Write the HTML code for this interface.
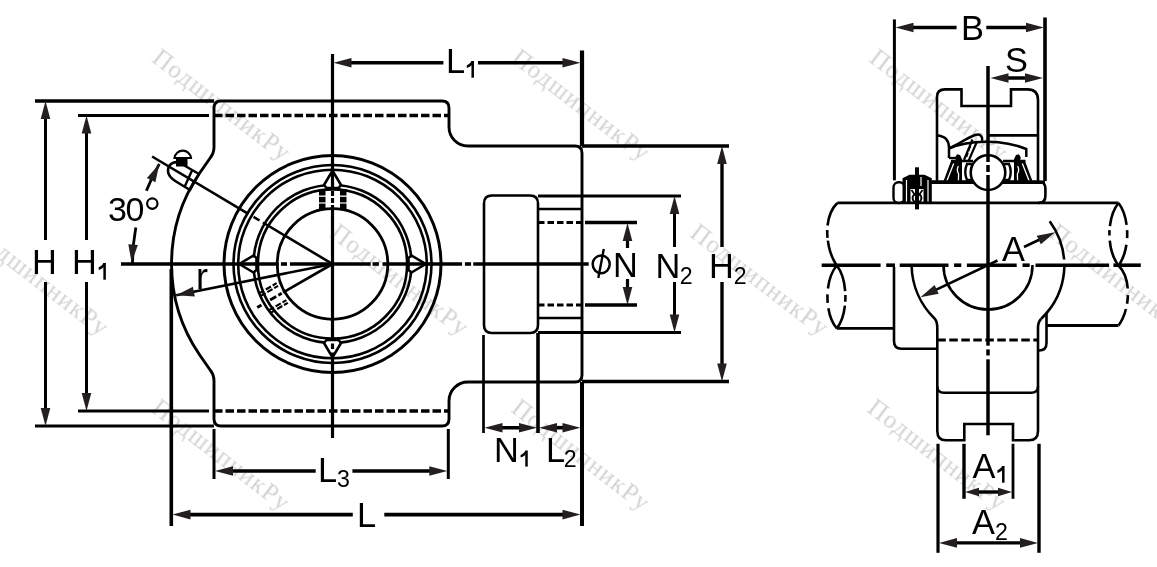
<!DOCTYPE html>
<html><head><meta charset="utf-8"><style>html,body{margin:0;padding:0;background:#fff;}svg{display:block;}</style></head>
<body><svg width="1157" height="567" viewBox="0 0 1157 567">
<rect width="1157" height="567" fill="#fff"/>
<g opacity="0.999">
<text x="151" y="60.5" transform="rotate(37.5 151 60.5)" font-family="Liberation Serif" font-size="25" letter-spacing="1.2" fill="#d4d4d4">ПодшипникРу</text>
<text x="510" y="61" transform="rotate(37.5 510 61)" font-family="Liberation Serif" font-size="25" letter-spacing="1.2" fill="#d4d4d4">ПодшипникРу</text>
<text x="868" y="61" transform="rotate(37.5 868 61)" font-family="Liberation Serif" font-size="25" letter-spacing="1.2" fill="#d4d4d4">ПодшипникРу</text>
<text x="-31" y="235.5" transform="rotate(37.5 -31 235.5)" font-family="Liberation Serif" font-size="25" letter-spacing="1.2" fill="#d4d4d4">ПодшипникРу</text>
<text x="329" y="235.5" transform="rotate(37.5 329 235.5)" font-family="Liberation Serif" font-size="25" letter-spacing="1.2" fill="#d4d4d4">ПодшипникРу</text>
<text x="689" y="235.5" transform="rotate(37.5 689 235.5)" font-family="Liberation Serif" font-size="25" letter-spacing="1.2" fill="#d4d4d4">ПодшипникРу</text>
<text x="1048" y="235.5" transform="rotate(37.5 1048 235.5)" font-family="Liberation Serif" font-size="25" letter-spacing="1.2" fill="#d4d4d4">ПодшипникРу</text>
<text x="150" y="411" transform="rotate(37.5 150 411)" font-family="Liberation Serif" font-size="25" letter-spacing="1.2" fill="#d4d4d4">ПодшипникРу</text>
<text x="510" y="411" transform="rotate(37.5 510 411)" font-family="Liberation Serif" font-size="25" letter-spacing="1.2" fill="#d4d4d4">ПодшипникРу</text>
<text x="866" y="411" transform="rotate(37.5 866 411)" font-family="Liberation Serif" font-size="25" letter-spacing="1.2" fill="#d4d4d4">ПодшипникРу</text>
</g>
<path d="M221,101 L442,101 Q449,101 449,108 L449,127 A19,19 0 0 0 468,146 L575,146 Q582,146 582,153 L582,375 Q582,382 575,382 L468,382 A19,19 0 0 0 449,401 L449,419 Q449,426 442,426 L221,426 Q214,426 214,419 L214,381 Q214,375 210.5,370.5 L199.7,355 A161,161 0 0 1 199.7,173 L210.5,157.5 Q214,153 214,147 L214,108 Q214,101 221,101 Z" stroke="#000" stroke-width="2.9" fill="none" />
<line x1="214" y1="115.5" x2="449" y2="115.5" stroke="#000" stroke-width="3.3" stroke-linecap="butt" stroke-dasharray="8.5,3"/>
<line x1="214" y1="411" x2="449" y2="411" stroke="#000" stroke-width="3.3" stroke-linecap="butt" stroke-dasharray="8.5,3"/>
<line x1="35" y1="101" x2="214" y2="101" stroke="#000" stroke-width="3.6" stroke-linecap="butt"/>
<line x1="78" y1="115.5" x2="209" y2="115.5" stroke="#000" stroke-width="3.2" stroke-linecap="butt"/>
<line x1="35" y1="426" x2="214" y2="426" stroke="#000" stroke-width="2.8" stroke-linecap="butt"/>
<line x1="78" y1="411" x2="209" y2="411" stroke="#000" stroke-width="2.8" stroke-linecap="butt"/>
<line x1="45.5" y1="110" x2="45.5" y2="240" stroke="#000" stroke-width="3" stroke-linecap="butt"/>
<line x1="45.5" y1="282" x2="45.5" y2="417" stroke="#000" stroke-width="3" stroke-linecap="butt"/>
<polygon points="45.5,101.0 50.3,119.0 40.7,119.0" fill="#231f20"/>
<polygon points="45.5,426.0 40.7,408.0 50.3,408.0" fill="#231f20"/>
<line x1="86.5" y1="124" x2="86.5" y2="240" stroke="#000" stroke-width="3" stroke-linecap="butt"/>
<line x1="86.5" y1="282" x2="86.5" y2="402" stroke="#000" stroke-width="3" stroke-linecap="butt"/>
<polygon points="86.5,115.5 91.3,133.5 81.7,133.5" fill="#231f20"/>
<polygon points="86.5,411.0 81.7,393.0 91.3,393.0" fill="#231f20"/>
<circle cx="332.5" cy="264.0" r="108.5" stroke="#000" stroke-width="3" fill="none"/>
<circle cx="332.5" cy="264.0" r="99" stroke="#000" stroke-width="2.6" fill="none"/>
<circle cx="332.5" cy="264.0" r="94.3" stroke="#000" stroke-width="2.6" fill="none"/>
<circle cx="332.5" cy="264.0" r="79" stroke="#000" stroke-width="2.6" fill="none"/>
<circle cx="332.5" cy="264.0" r="74.6" stroke="#000" stroke-width="2.6" fill="none"/>
<circle cx="332.5" cy="264.0" r="55.3" stroke="#000" stroke-width="2.8" fill="none"/>
<polygon points="425.8,264.0 411.5,272.5 408.5,270.0 408.5,258.0 411.5,255.5" fill="#fff" stroke="#000" stroke-width="2.6" stroke-linejoin="round"/>
<polygon points="332.5,357.3 324.0,343.0 326.5,340.0 338.5,340.0 341.0,343.0" fill="#fff" stroke="#000" stroke-width="2.6" stroke-linejoin="round"/>
<polygon points="239.2,264.0 253.5,255.5 256.5,258.0 256.5,270.0 253.5,272.5" fill="#fff" stroke="#000" stroke-width="2.6" stroke-linejoin="round"/>
<polygon points="332.5,170.7 341.0,185.0 338.5,188.0 326.5,188.0 324.0,185.0" fill="#fff" stroke="#000" stroke-width="2.6" stroke-linejoin="round"/>
<rect x="319" y="189" width="6.5" height="6.5" fill="#000"/>
<rect x="319" y="196.8" width="6.5" height="5.6" fill="#000"/>
<rect x="319" y="203.6" width="6.5" height="5.4" fill="#000"/>
<rect x="340" y="189" width="6.5" height="6.5" fill="#000"/>
<rect x="340" y="196.8" width="6.5" height="5.6" fill="#000"/>
<rect x="340" y="203.6" width="6.5" height="5.4" fill="#000"/>
<line x1="332.5" y1="264.0" x2="283.1" y2="292.5" stroke="#000" stroke-width="2.6" stroke-linecap="butt"/>
<line x1="281.8" y1="293.2" x2="278.4" y2="295.2" stroke="#000" stroke-width="2.8" stroke-linecap="butt"/>
<line x1="276.2" y1="296.5" x2="270.1" y2="300.0" stroke="#000" stroke-width="2.8" stroke-linecap="butt"/>
<line x1="261.5" y1="305.0" x2="257.2" y2="307.5" stroke="#000" stroke-width="2.8" stroke-linecap="butt"/>
<line x1="286.4" y1="300.2" x2="282.5" y2="302.4" stroke="#000" stroke-width="2.1" stroke-linecap="butt"/>
<line x1="280.8" y1="303.4" x2="275.6" y2="306.4" stroke="#000" stroke-width="2.1" stroke-linecap="butt"/>
<line x1="273.9" y1="307.4" x2="269.1" y2="310.2" stroke="#000" stroke-width="2.1" stroke-linecap="butt"/>
<line x1="287.9" y1="302.8" x2="284.0" y2="305.0" stroke="#000" stroke-width="2.1" stroke-linecap="butt"/>
<line x1="282.3" y1="306.0" x2="277.1" y2="309.0" stroke="#000" stroke-width="2.1" stroke-linecap="butt"/>
<line x1="275.4" y1="310.0" x2="270.6" y2="312.8" stroke="#000" stroke-width="2.1" stroke-linecap="butt"/>
<line x1="278.1" y1="285.8" x2="274.2" y2="288.1" stroke="#000" stroke-width="2.1" stroke-linecap="butt"/>
<line x1="272.5" y1="289.1" x2="267.3" y2="292.1" stroke="#000" stroke-width="2.1" stroke-linecap="butt"/>
<line x1="265.6" y1="293.1" x2="260.8" y2="295.8" stroke="#000" stroke-width="2.1" stroke-linecap="butt"/>
<line x1="276.6" y1="283.2" x2="272.7" y2="285.5" stroke="#000" stroke-width="2.1" stroke-linecap="butt"/>
<line x1="271.0" y1="286.5" x2="265.8" y2="289.5" stroke="#000" stroke-width="2.1" stroke-linecap="butt"/>
<line x1="264.1" y1="290.5" x2="259.3" y2="293.2" stroke="#000" stroke-width="2.1" stroke-linecap="butt"/>
<line x1="152.1" y1="156.5" x2="247.5" y2="213.3" stroke="#000" stroke-width="2.6" stroke-linecap="butt"/>
<line x1="253.5" y1="216.9" x2="259.5" y2="220.5" stroke="#000" stroke-width="2.6" stroke-linecap="butt"/>
<line x1="262.9" y1="222.5" x2="332.5" y2="264.0" stroke="#000" stroke-width="2.6" stroke-linecap="butt"/>
<line x1="176.2" y1="295.2" x2="332.5" y2="264.0" stroke="#000" stroke-width="2.6" stroke-linecap="butt"/>
<polygon points="176.2,295.2 192.9,286.8 194.8,296.6" fill="#231f20"/>
<path d="M182,164 C176,160 168,163 168,171 C168,176 172,179 176,181.5 L190,190" stroke="#000" stroke-width="2.6" fill="none" />
<line x1="180" y1="163" x2="199" y2="174" stroke="#000" stroke-width="2.4" stroke-linecap="butt"/>
<line x1="192" y1="170.5" x2="184.5" y2="187" stroke="#000" stroke-width="2.4" stroke-linecap="butt"/>
<line x1="199" y1="174" x2="189.5" y2="191" stroke="#000" stroke-width="2.4" stroke-linecap="butt"/>
<path d="M174.5,158 A8.3,8.3 0 0 1 191,158 Z" stroke="#000" stroke-width="2.2" fill="#fff" />
<rect x="176" y="158.5" width="11.5" height="8" fill="#000"/>
<line x1="121" y1="264" x2="278.8" y2="264" stroke="#000" stroke-width="3.6" stroke-linecap="butt"/>
<line x1="280.9" y1="264" x2="287" y2="264" stroke="#000" stroke-width="3.6" stroke-linecap="butt"/>
<line x1="289.9" y1="264" x2="370.7" y2="264" stroke="#000" stroke-width="3.6" stroke-linecap="butt"/>
<line x1="372.5" y1="264" x2="378.9" y2="264" stroke="#000" stroke-width="3.6" stroke-linecap="butt"/>
<line x1="382.5" y1="264" x2="462.1" y2="264" stroke="#000" stroke-width="3.6" stroke-linecap="butt"/>
<line x1="464.9" y1="264" x2="471.1" y2="264" stroke="#000" stroke-width="3.6" stroke-linecap="butt"/>
<line x1="473.2" y1="264" x2="588.7" y2="264" stroke="#000" stroke-width="3.6" stroke-linecap="butt"/>
<line x1="332.5" y1="54" x2="332.5" y2="189" stroke="#000" stroke-width="3.2" stroke-linecap="butt"/>
<line x1="332.5" y1="191" x2="332.5" y2="196" stroke="#000" stroke-width="3.2" stroke-linecap="butt"/>
<line x1="332.5" y1="198" x2="332.5" y2="203" stroke="#000" stroke-width="3.2" stroke-linecap="butt"/>
<line x1="332.5" y1="205" x2="332.5" y2="340.5" stroke="#000" stroke-width="3.2" stroke-linecap="butt"/>
<line x1="332.5" y1="343.5" x2="332.5" y2="349" stroke="#000" stroke-width="3.2" stroke-linecap="butt"/>
<line x1="332.5" y1="352.5" x2="332.5" y2="438" stroke="#000" stroke-width="3.2" stroke-linecap="butt"/>
<path d="M132.5,264.0 A200,200 0 0 1 135.8,227.6" stroke="#000" stroke-width="2.8" fill="none" />
<path d="M146.4,190.7 A200,200 0 0 1 159.3,164.0" stroke="#000" stroke-width="2.8" fill="none" />
<polygon points="131.6,262.5 128.3,244.2 137.9,245.0" fill="#231f20"/>
<polygon points="159.3,164.0 155.4,182.2 146.9,177.9" fill="#231f20"/>
<path d="M492,195.5 L530,195.5 Q538,195.5 538,203.5 L538,325 Q538,333 530,333 L492,333 Q484,333 484,325 L484,203.5 Q484,195.5 492,195.5 Z" stroke="#000" stroke-width="2.6" fill="none" />
<line x1="538" y1="196" x2="681" y2="196" stroke="#000" stroke-width="3.2" stroke-linecap="butt"/>
<line x1="538" y1="209" x2="582" y2="209" stroke="#000" stroke-width="2.6" stroke-linecap="butt"/>
<line x1="538" y1="222.5" x2="582" y2="222.5" stroke="#000" stroke-width="3.2" stroke-linecap="butt" stroke-dasharray="6.5,3"/>
<line x1="585" y1="222.5" x2="637" y2="222.5" stroke="#000" stroke-width="3.4" stroke-linecap="butt"/>
<line x1="538" y1="305" x2="582" y2="305" stroke="#000" stroke-width="3.2" stroke-linecap="butt" stroke-dasharray="6.5,3"/>
<line x1="585" y1="305" x2="637" y2="305" stroke="#000" stroke-width="3.4" stroke-linecap="butt"/>
<line x1="538" y1="318" x2="582" y2="318" stroke="#000" stroke-width="2.6" stroke-linecap="butt"/>
<line x1="538" y1="332.5" x2="681" y2="332.5" stroke="#000" stroke-width="3.2" stroke-linecap="butt"/>
<line x1="483.5" y1="335" x2="483.5" y2="433" stroke="#000" stroke-width="2.7" stroke-linecap="butt"/>
<line x1="538" y1="333" x2="538" y2="433" stroke="#000" stroke-width="3.6" stroke-linecap="butt"/>
<line x1="582" y1="146" x2="582" y2="50.5" stroke="#000" stroke-width="4.2" stroke-linecap="butt"/>
<line x1="582" y1="146" x2="729" y2="146" stroke="#000" stroke-width="3.6" stroke-linecap="butt"/>
<line x1="582" y1="381.5" x2="729" y2="381.5" stroke="#000" stroke-width="3.5" stroke-linecap="butt"/>
<line x1="582" y1="382" x2="582" y2="526" stroke="#000" stroke-width="4" stroke-linecap="butt"/>
<line x1="627.5" y1="241" x2="627.5" y2="248" stroke="#000" stroke-width="3.2" stroke-linecap="butt"/>
<line x1="627.5" y1="279" x2="627.5" y2="287" stroke="#000" stroke-width="3.2" stroke-linecap="butt"/>
<polygon points="627.5,223.0 632.3,241.0 622.7,241.0" fill="#231f20"/>
<polygon points="627.5,305.0 622.7,287.0 632.3,287.0" fill="#231f20"/>
<line x1="674.5" y1="205" x2="674.5" y2="247" stroke="#000" stroke-width="3" stroke-linecap="butt"/>
<line x1="674.5" y1="282" x2="674.5" y2="323.5" stroke="#000" stroke-width="3" stroke-linecap="butt"/>
<polygon points="674.5,196.0 679.3,214.0 669.7,214.0" fill="#231f20"/>
<polygon points="674.5,332.5 669.7,314.5 679.3,314.5" fill="#231f20"/>
<line x1="722" y1="155" x2="722" y2="247" stroke="#000" stroke-width="3.4" stroke-linecap="butt"/>
<line x1="722" y1="282" x2="722" y2="372.5" stroke="#000" stroke-width="3.4" stroke-linecap="butt"/>
<polygon points="722.0,146.0 726.8,164.0 717.2,164.0" fill="#231f20"/>
<polygon points="722.0,381.5 717.2,363.5 726.8,363.5" fill="#231f20"/>
<line x1="342" y1="62.7" x2="443.4" y2="62.7" stroke="#000" stroke-width="3.6" stroke-linecap="butt"/>
<line x1="478" y1="62.7" x2="571" y2="62.7" stroke="#000" stroke-width="3.6" stroke-linecap="butt"/>
<polygon points="333.5,62.7 351.5,57.9 351.5,67.5" fill="#231f20"/>
<polygon points="580.5,62.7 562.5,67.5 562.5,57.9" fill="#231f20"/>
<line x1="214" y1="429" x2="214" y2="479" stroke="#000" stroke-width="3" stroke-linecap="butt"/>
<line x1="448.3" y1="429" x2="448.3" y2="479" stroke="#000" stroke-width="3" stroke-linecap="butt"/>
<line x1="224" y1="471" x2="315.7" y2="471" stroke="#000" stroke-width="3.6" stroke-linecap="butt"/>
<line x1="352.4" y1="471" x2="438" y2="471" stroke="#000" stroke-width="3.6" stroke-linecap="butt"/>
<polygon points="215.0,471.0 233.0,466.2 233.0,475.8" fill="#231f20"/>
<polygon points="447.3,471.0 429.3,475.8 429.3,466.2" fill="#231f20"/>
<line x1="171.3" y1="269" x2="171.3" y2="526" stroke="#000" stroke-width="3.6" stroke-linecap="butt"/>
<line x1="181" y1="514.6" x2="352.8" y2="514.6" stroke="#000" stroke-width="3.6" stroke-linecap="butt"/>
<line x1="384.3" y1="514.6" x2="571" y2="514.6" stroke="#000" stroke-width="3.6" stroke-linecap="butt"/>
<polygon points="172.5,514.6 190.5,509.8 190.5,519.4" fill="#231f20"/>
<polygon points="580.5,514.6 562.5,519.4 562.5,509.8" fill="#231f20"/>
<line x1="493" y1="427.7" x2="528" y2="427.7" stroke="#000" stroke-width="3.6" stroke-linecap="butt"/>
<line x1="548" y1="427.7" x2="571" y2="427.7" stroke="#000" stroke-width="3.6" stroke-linecap="butt"/>
<polygon points="484.5,427.7 502.5,422.9 502.5,432.5" fill="#231f20"/>
<polygon points="537.0,427.7 519.0,432.5 519.0,422.9" fill="#231f20"/>
<polygon points="539.0,427.7 557.0,422.9 557.0,432.5" fill="#231f20"/>
<polygon points="580.5,427.7 562.5,432.5 562.5,422.9" fill="#231f20"/>
<ellipse cx="601.2" cy="264.3" rx="8.5" ry="8.9" stroke="#000" stroke-width="2.5" fill="none"/>
<line x1="603.8" y1="249" x2="598.3" y2="278" stroke="#000" stroke-width="2.4" stroke-linecap="butt"/>
<line x1="894.4" y1="19.4" x2="894.4" y2="180.3" stroke="#000" stroke-width="3" stroke-linecap="butt"/>
<line x1="1045" y1="17.5" x2="1045" y2="181" stroke="#000" stroke-width="3.6" stroke-linecap="butt"/>
<line x1="904" y1="27.5" x2="956.6" y2="27.5" stroke="#000" stroke-width="3.4" stroke-linecap="butt"/>
<line x1="986.3" y1="27.5" x2="1035" y2="27.5" stroke="#000" stroke-width="3.4" stroke-linecap="butt"/>
<polygon points="895.5,27.5 913.5,22.7 913.5,32.3" fill="#231f20"/>
<polygon points="1044.0,27.5 1026.0,32.3 1026.0,22.7" fill="#231f20"/>
<line x1="999" y1="78" x2="1034" y2="78" stroke="#000" stroke-width="3.6" stroke-linecap="butt"/>
<polygon points="990.5,78.0 1008.5,73.2 1008.5,82.8" fill="#231f20"/>
<polygon points="1043.0,78.0 1025.0,82.8 1025.0,73.2" fill="#231f20"/>
<path d="M937,181 L937,97 Q937,89.4 945,89.4 L961.5,89.4 L961.5,106 L1011,106 L1011,89.4 L1027.5,89.4 Q1038,89.4 1038,100 L1038,182" stroke="#000" stroke-width="2.6" fill="none" />
<line x1="988.7" y1="135.4" x2="1038" y2="135.4" stroke="#000" stroke-width="2.8" stroke-linecap="butt"/>
<path d="M937,135.5 C946,136 949,141 949,148 L949,158" stroke="#000" stroke-width="2.5" fill="none" />
<path d="M949,148.5 C962,143 975,141.5 988,141.8 C1002,142 1015,144.5 1026.3,149 L1026.3,157" stroke="#000" stroke-width="2.5" fill="none" />
<line x1="949" y1="158" x2="961" y2="158" stroke="#000" stroke-width="2.3" stroke-linecap="butt"/>
<line x1="1003" y1="161" x2="1025.5" y2="161" stroke="#000" stroke-width="2.5" stroke-linecap="butt"/>
<line x1="951" y1="161" x2="973" y2="161" stroke="#000" stroke-width="2.5" stroke-linecap="butt"/>
<path d="M949,148 C958,145.5 964,139 975,135 C980,133.5 983,136 982,141" stroke="#000" stroke-width="2.4" fill="none" />
<line x1="972.5" y1="139.5" x2="964" y2="160" stroke="#000" stroke-width="2.2" stroke-linecap="butt"/>
<line x1="977" y1="141.5" x2="968.5" y2="161" stroke="#000" stroke-width="2.2" stroke-linecap="butt"/>
<line x1="970.5" y1="146" x2="968.5" y2="151" stroke="#000" stroke-width="1.6" stroke-linecap="butt"/>
<line x1="968" y1="153" x2="966.5" y2="157" stroke="#000" stroke-width="1.6" stroke-linecap="butt"/>
<polygon points="1014.0,182.5 1014.0,159.0 1016.0,155.0 1019.0,154.3 1020.8,157.5 1020.0,161.0 1025.0,161.0 1033.0,182.5" fill="#000"/>
<line x1="1022.3" y1="163.5" x2="1029.6" y2="182" stroke="#fff" stroke-width="1.3" stroke-linecap="butt"/>
<path d="M1017.6,166 Q1019.8,170 1017.4,174 L1017.6,181" stroke="#fff" stroke-width="1.3" fill="none" />
<polygon points="962.0,182.5 962.0,159.0 960.0,155.0 957.0,154.3 955.2,157.5 956.0,161.0 951.0,161.0 943.0,182.5" fill="#000"/>
<line x1="953.7" y1="163.5" x2="946.4000000000001" y2="182" stroke="#fff" stroke-width="1.3" stroke-linecap="butt"/>
<path d="M958.4,166 Q956.2,170 958.6,174 L958.4,181" stroke="#fff" stroke-width="1.3" fill="none" />
<path d="M1004,164 L1009,164 Q1012.5,172 1009,180 L1004,180" stroke="#000" stroke-width="2.4" fill="#fff" />
<path d="M972,164 L967,164 Q963.5,172 967,180 L972,180" stroke="#000" stroke-width="2.4" fill="#fff" />
<path d="M931,181.8 L1038.5,181.8 Q1045.4,181.8 1045.4,188.5 L1045.4,196 Q1045.4,202.9 1038.5,202.9" stroke="#000" stroke-width="2.6" fill="none" />
<rect x="893.5" y="182.3" width="11" height="20.8" rx="5" ry="5" fill="#fff" stroke="#000" stroke-width="2.4"/>
<line x1="930" y1="182.2" x2="974" y2="182.2" stroke="#000" stroke-width="3.4" stroke-linecap="butt"/>
<line x1="1002" y1="182.2" x2="1045" y2="182.2" stroke="#000" stroke-width="3.4" stroke-linecap="butt"/>
<circle cx="988" cy="172.6" r="17.3" stroke="#000" stroke-width="2.6" fill="#fff"/>
<polygon points="902.5,203.5 902.5,178.3 909.5,174.8 924.5,174.8 931.8,178.3 931.8,203.5" fill="#000"/>
<rect x="910.5" y="189" width="13" height="13" fill="#fff"/>
<circle cx="917" cy="198" r="4.4" stroke="#000" stroke-width="2" fill="none"/>
<line x1="906.5" y1="180" x2="906.5" y2="202" stroke="#fff" stroke-width="1.2" stroke-linecap="butt"/>
<line x1="928" y1="180" x2="928" y2="202" stroke="#fff" stroke-width="1.2" stroke-linecap="butt"/>
<line x1="921" y1="177" x2="921" y2="186" stroke="#fff" stroke-width="1.2" stroke-linecap="butt"/>
<line x1="911.5" y1="190" x2="917" y2="198" stroke="#000" stroke-width="1.8" stroke-linecap="butt"/>
<line x1="922.5" y1="190" x2="917" y2="198" stroke="#000" stroke-width="1.8" stroke-linecap="butt"/>
<line x1="917" y1="167.3" x2="917" y2="209.4" stroke="#000" stroke-width="4" stroke-linecap="butt"/>
<line x1="837.3" y1="202.9" x2="1118.5" y2="202.9" stroke="#000" stroke-width="2.8" stroke-linecap="butt"/>
<line x1="836.8" y1="328.4" x2="894" y2="328.4" stroke="#000" stroke-width="2.8" stroke-linecap="butt"/>
<line x1="1046.5" y1="325.5" x2="1118.5" y2="325.5" stroke="#000" stroke-width="2.8" stroke-linecap="butt"/>
<path d="M837.3,203 C822,218 826,250 836.8,265.5" stroke="#000" stroke-width="2.6" fill="none" pathLength="100" stroke-dasharray="37.4,6.9,11.8,4,100"/>
<path d="M836.8,265.5 C824.3,280 824.3,314 836.8,328.5" stroke="#000" stroke-width="2.6" fill="none" pathLength="100" stroke-dasharray="37.3,8.8,12.8,8,100"/>
<path d="M836.8,265.5 C848.3,280 848.3,314 836.8,328.5" stroke="#000" stroke-width="2.6" fill="none" pathLength="100" stroke-dasharray="41.1,6,10,6,100"/>
<path d="M1118.5,203 C1106.4,218 1106.4,250 1118.5,265.5" stroke="#000" stroke-width="2.6" fill="none" pathLength="100" stroke-dasharray="37.7,6.1,8,8,100"/>
<path d="M1118.5,203 C1130.1,218 1130.1,250 1118.5,265.5" stroke="#000" stroke-width="2.6" fill="none" pathLength="100" stroke-dasharray="35.7,8.1,12,10.2,100"/>
<path d="M1118.5,265.5 C1133,280 1129,312 1118.5,325.5" stroke="#000" stroke-width="2.6" fill="none" pathLength="100" stroke-dasharray="39.4,10.3,13.5,8.4,100"/>
<path d="M894,267 L894,341 Q894,348.8 901.5,348.8 L937,348.8" stroke="#000" stroke-width="2.6" fill="none" />
<path d="M911.6,265 A76.4,76.4 0 0 0 935,319 Q937.3,322 937.3,328 L937.3,431 Q937.3,440.3 946,440.3 L964.3,440.3 L964.3,424 L1013,424 L1013,440.3 L1029,440.3 Q1038,440.3 1038,431 L1038,328 Q1038,322 1041,319" stroke="#000" stroke-width="2.6" fill="none" />
<path d="M1041,319 A76.4,76.4 0 0 0 1064.4,266" stroke="#000" stroke-width="2.6" fill="none" />
<path d="M1064.2,259.5 A76.4,76.4 0 0 0 1049.7,221.3" stroke="#000" stroke-width="2.6" fill="none" />
<path d="M1046.5,313 L1046.5,343 Q1046.5,350.5 1039,350.5" stroke="#000" stroke-width="2.6" fill="none" />
<line x1="937.3" y1="340" x2="1038" y2="340" stroke="#000" stroke-width="3.1" stroke-linecap="butt" stroke-dasharray="8.5,3.5"/>
<path d="M937.3,386.5 Q937.3,392.8 944,392.8 L1031,392.8 Q1038,392.8 1038,386.5" stroke="#000" stroke-width="2.6" fill="none" />
<path d="M943.5,265 A44.5,44.5 0 0 0 1032.5,265" stroke="#000" stroke-width="2.6" fill="none" />
<line x1="821.7" y1="265.2" x2="880.6" y2="265.2" stroke="#000" stroke-width="3.6" stroke-linecap="butt"/>
<line x1="886.2" y1="265.2" x2="895" y2="265.2" stroke="#000" stroke-width="3.6" stroke-linecap="butt"/>
<line x1="899.7" y1="265.2" x2="948.5" y2="265.2" stroke="#000" stroke-width="3.6" stroke-linecap="butt"/>
<line x1="954.1" y1="265.2" x2="961.3" y2="265.2" stroke="#000" stroke-width="3.6" stroke-linecap="butt"/>
<line x1="966.9" y1="265.2" x2="1016.7" y2="265.2" stroke="#000" stroke-width="3.6" stroke-linecap="butt"/>
<line x1="1022.5" y1="265.2" x2="1029.7" y2="265.2" stroke="#000" stroke-width="3.6" stroke-linecap="butt"/>
<line x1="1035.5" y1="265.2" x2="1109.1" y2="265.2" stroke="#000" stroke-width="3.6" stroke-linecap="butt"/>
<line x1="1113.4" y1="265.2" x2="1140.8" y2="265.2" stroke="#000" stroke-width="3.6" stroke-linecap="butt"/>
<line x1="988" y1="66" x2="988" y2="162" stroke="#000" stroke-width="3.5" stroke-linecap="butt"/>
<line x1="988" y1="165" x2="988" y2="172" stroke="#000" stroke-width="3.5" stroke-linecap="butt"/>
<line x1="988" y1="175" x2="988" y2="345.7" stroke="#000" stroke-width="3.5" stroke-linecap="butt"/>
<line x1="988" y1="349.4" x2="988" y2="355.5" stroke="#000" stroke-width="3.5" stroke-linecap="butt"/>
<line x1="988" y1="359.3" x2="988" y2="435.3" stroke="#000" stroke-width="3.5" stroke-linecap="butt"/>
<line x1="928" y1="293.6" x2="997.5" y2="260.5" stroke="#000" stroke-width="2.6" stroke-linecap="butt"/>
<polygon points="920.4,297.2 934.6,285.1 938.7,293.8" fill="#231f20"/>
<line x1="1024" y1="247" x2="1047" y2="236" stroke="#000" stroke-width="2.6" stroke-linecap="butt"/>
<polygon points="1055.0,232.3 1040.8,244.3 1036.7,235.7" fill="#231f20"/>
<line x1="964" y1="443.8" x2="964" y2="498.8" stroke="#000" stroke-width="3.4" stroke-linecap="butt"/>
<line x1="1013" y1="443.8" x2="1013" y2="498.8" stroke="#000" stroke-width="2.8" stroke-linecap="butt"/>
<line x1="975" y1="492" x2="1002" y2="492" stroke="#000" stroke-width="3.4" stroke-linecap="butt"/>
<polygon points="965.0,492.0 979.0,487.7 979.0,496.3" fill="#231f20"/>
<polygon points="1012.0,492.0 998.0,496.3 998.0,487.7" fill="#231f20"/>
<line x1="948" y1="542.9" x2="1029" y2="542.9" stroke="#000" stroke-width="3.4" stroke-linecap="butt"/>
<line x1="938" y1="443.8" x2="938" y2="552.8" stroke="#000" stroke-width="3.2" stroke-linecap="butt"/>
<line x1="1039" y1="443.8" x2="1039" y2="552.8" stroke="#000" stroke-width="3.4" stroke-linecap="butt"/>
<polygon points="939.0,542.9 957.0,538.1 957.0,547.7" fill="#231f20"/>
<polygon points="1038.0,542.9 1020.0,547.7 1020.0,538.1" fill="#231f20"/>
<text transform="translate(32,273.8) scale(0.955,1)" font-family="Liberation Sans" font-size="36">H</text>
<text transform="translate(72,273.8) scale(0.955,1)" font-family="Liberation Sans" font-size="36">H</text>
<polygon points="103.35,263.00 105.85,263.00 105.85,279.70 103.35,279.70" fill="#000"/>
<path d="M105.85,263.00 L103.35,263.00 C102.40,265.00 100.80,266.40 98.70,267.20 L98.70,269.90 C100.60,269.30 102.10,268.40 103.35,267.40 Z" fill="#000"/>
<text x="108" y="221" font-family="Liberation Sans" font-size="34" letter-spacing="-1.5">30</text>
<circle cx="152.3" cy="203.6" r="5.2" stroke="#000" stroke-width="2.2" fill="none"/>
<text x="196" y="288.9" font-family="Liberation Sans" font-size="36">r</text>
<text transform="translate(446,73) scale(0.955,1)" font-family="Liberation Sans" font-size="36">L</text>
<polygon points="471.45,61.00 473.95,61.00 473.95,77.70 471.45,77.70" fill="#000"/>
<path d="M473.95,61.00 L471.45,61.00 C470.50,63.00 468.90,64.40 466.80,65.20 L466.80,67.90 C468.70,67.30 470.20,66.40 471.45,65.40 Z" fill="#000"/>
<text transform="translate(318,481.6) scale(0.955,1)" font-family="Liberation Sans" font-size="36">L<tspan font-size="24.3" dy="5" dx="0">3</tspan></text>
<text transform="translate(357,526.5) scale(0.955,1)" font-family="Liberation Sans" font-size="36">L</text>
<text transform="translate(494,461.8) scale(0.955,1)" font-family="Liberation Sans" font-size="36">N</text>
<polygon points="525.25,450.70 527.75,450.70 527.75,466.60 525.25,466.60" fill="#000"/>
<path d="M527.75,450.70 L525.25,450.70 C524.30,452.70 522.70,454.10 520.60,454.90 L520.60,457.60 C522.50,457.00 524.00,456.10 525.25,455.10 Z" fill="#000"/>
<text transform="translate(546,461.8) scale(0.955,1)" font-family="Liberation Sans" font-size="36">L<tspan font-size="24.3" dy="5" dx="-1.5">2</tspan></text>
<text transform="translate(613,277) scale(0.955,1)" font-family="Liberation Sans" font-size="36">N</text>
<text transform="translate(655.5,278) scale(0.955,1)" font-family="Liberation Sans" font-size="36">N<tspan font-size="24.3" dy="6" dx="-0.5">2</tspan></text>
<text transform="translate(709,278) scale(0.955,1)" font-family="Liberation Sans" font-size="36">H<tspan font-size="24.3" dy="6" dx="0">2</tspan></text>
<text transform="translate(961,39.8) scale(0.955,1)" font-family="Liberation Sans" font-size="36">B</text>
<text transform="translate(1005,71.8) scale(0.955,1)" font-family="Liberation Sans" font-size="36">S</text>
<text transform="translate(1002,261) scale(0.955,1)" font-family="Liberation Sans" font-size="36">A</text>
<text transform="translate(972.5,477.7) scale(0.955,1)" font-family="Liberation Sans" font-size="36">A</text>
<polygon points="1002.05,466.00 1004.55,466.00 1004.55,482.70 1002.05,482.70" fill="#000"/>
<path d="M1004.55,466.00 L1002.05,466.00 C1001.10,468.00 999.50,469.40 997.40,470.20 L997.40,472.90 C999.30,472.30 1000.80,471.40 1002.05,470.40 Z" fill="#000"/>
<text transform="translate(972,534.4) scale(0.955,1)" font-family="Liberation Sans" font-size="36">A<tspan font-size="24.3" dy="6" dx="0">2</tspan></text>
</svg></body></html>
